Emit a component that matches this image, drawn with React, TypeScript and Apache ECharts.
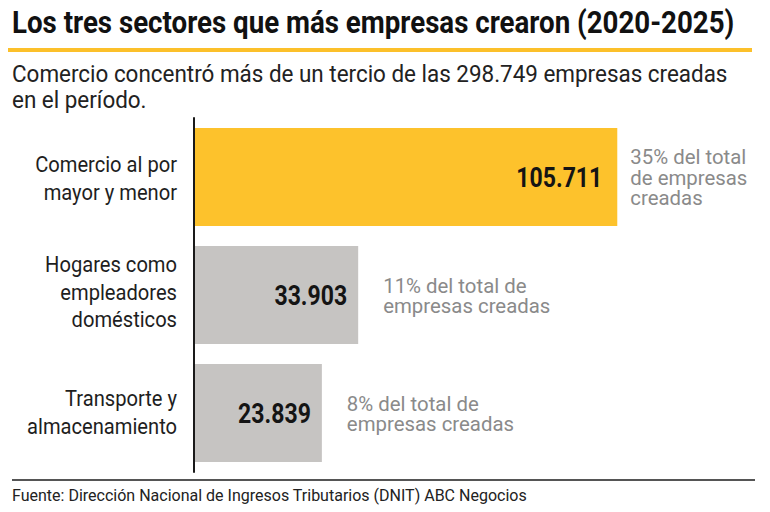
import React, { useEffect, useRef } from "react";
import * as echarts from "echarts";

const TITLE = "Los tres sectores que más empresas crearon (2020-2025)";
const SUBTITLE_LINES = ["Comercio concentró más de un tercio de las 298.749 empresas creadas", "en el período."];
const SOURCE = "Fuente: Dirección Nacional de Ingresos Tributarios (DNIT) ABC Negocios";

const categories = [
  "Comercio al por\nmayor y menor",
  "Hogares como\nempleadores\ndomésticos",
  "Transporte y\nalmacenamiento",
];
const values = [105711, 33903, 23839];
const shareLabels = [
  "35% del total\nde empresas\ncreadas",
  "11% del total de\nempresas creadas",
  "8% del total de\nempresas creadas",
];

const FAMILY = "Roboto, 'Liberation Sans', sans-serif";
const X_MIN = -11600;
const X_MAX = 140000;
const BAR_COLORS = ["#fdc22c", "#c6c4c2", "#c6c4c2"];
const SHARE_OFFSETS = [13, 25, 25];
const VALUE_GAPS = [15, 11, 11];
const CAT_DY = [1, -3, -1];

const fmt = (v: number) => String(Math.round(v)).replace(/\B(?=(\d{3})+(?!\d))/g, ".");

// horizontal scale that makes a text as wide as the condensed face of the reference
const ctx = typeof document !== "undefined" ? document.createElement("canvas").getContext("2d") : null;
function fitScale(text: string, size: number, weight: string, target: number) {
  if (!ctx) return 0.8;
  ctx.font = `${weight} ${size}px ${FAMILY}`;
  const w = ctx.measureText(text).width;
  return w > 0 ? target / w : 0.8;
}

export default function App() {
  const ref = useRef<HTMLDivElement>(null);
  useEffect(() => {
    if (!ref.current) return;
    const chart = echarts.init(ref.current, undefined, { renderer: "svg" });

    const sTitle = fitScale(TITLE, 31, "bold", 723);
    const sSub = fitScale(SUBTITLE_LINES[0], 24, "normal", 716);
    const sSrc = fitScale(SOURCE, 16, "normal", 515);
    const sCat = fitScale("almacenamiento", 22, "normal", 150);
    const sVal = fitScale("105.711", 28, "bold", 86);
    const sShare = fitScale("35% del total", 20, "normal", 116);

    chart.setOption({
      animation: false,
      backgroundColor: "#ffffff",
      grid: { left: 194, right: 29, top: 118, bottom: 40 },
      xAxis: { type: "value", min: X_MIN, max: X_MAX, show: false },
      yAxis: {
        type: "category",
        data: categories,
        inverse: true,
        axisTick: { show: false },
        axisLine: { show: true, onZero: false, lineStyle: { color: "#1a1a1a", width: 2 } },
        axisLabel: { show: false },
        splitLine: { show: false },
      },
      series: [
        {
          type: "custom",
          encode: { x: 0, y: 1 },
          data: values.map((v, i) => [v, i]),
          renderItem: (params: any, api: any) => {
            const idx = params.dataIndex;
            const v = api.value(0);
            const start = api.coord([X_MIN, idx]);
            const end = api.coord([v, idx]);
            const h = api.size([0, 1])[1] * 0.83;
            return {
              type: "group",
              children: [
                {
                  type: "rect",
                  shape: { x: start[0] + 1, y: end[1] - h / 2, width: end[0] - start[0] - 1, height: h },
                  style: { fill: BAR_COLORS[idx] },
                },
                {
                  type: "text",
                  x: start[0] - 17,
                  y: end[1] + CAT_DY[idx],
                  scaleX: sCat,
                  style: {
                    text: categories[idx],
                    x: 0,
                    y: 0,
                    align: "right",
                    verticalAlign: "middle",
                    fontFamily: FAMILY,
                    fontSize: 22,
                    lineHeight: 27.5,
                    fill: "#1e1e1e",
                  },
                },
                {
                  type: "text",
                  x: end[0] - VALUE_GAPS[idx],
                  y: end[1],
                  scaleX: sVal,
                  style: {
                    text: fmt(v),
                    x: 0,
                    y: 0,
                    align: "right",
                    verticalAlign: "middle",
                    fontFamily: FAMILY,
                    fontWeight: "bold",
                    fontSize: 28,
                    fill: "#141414",
                  },
                },
                {
                  type: "text",
                  x: end[0] + SHARE_OFFSETS[idx],
                  y: end[1] + 1,
                  scaleX: sShare,
                  style: {
                    text: shareLabels[idx],
                    x: 0,
                    y: 0,
                    align: "left",
                    verticalAlign: "middle",
                    fontFamily: FAMILY,
                    fontSize: 20,
                    lineHeight: 20.5,
                    fill: "#8a8a8a",
                  },
                },
              ],
            };
          },
        },
      ],
      graphic: [
        {
          type: "text",
          x: 12,
          y: 22.5,
          scaleX: sTitle,
          style: {
            text: TITLE, x: 0, y: 0, verticalAlign: "middle",
            fontFamily: FAMILY, fontWeight: "bold", fontSize: 31, fill: "#111",
          },
        },
        {
          type: "rect",
          shape: { x: 8, y: 48, width: 744, height: 4 },
          style: { fill: "#fcc02a" },
        },
        {
          type: "text",
          x: 12,
          y: 73.5,
          scaleX: sSub,
          style: {
            text: SUBTITLE_LINES[0], x: 0, y: 0, verticalAlign: "middle",
            fontFamily: FAMILY, fontSize: 24, fill: "#222",
          },
        },
        {
          type: "text",
          x: 12,
          y: 100,
          scaleX: sSub,
          style: {
            text: SUBTITLE_LINES[1], x: 0, y: 0, verticalAlign: "middle",
            fontFamily: FAMILY, fontSize: 24, fill: "#222",
          },
        },
        {
          type: "rect",
          shape: { x: 12, y: 479, width: 743, height: 2 },
          style: { fill: "#555" },
        },
        {
          type: "text",
          x: 12,
          y: 496,
          scaleX: sSrc,
          style: {
            text: SOURCE, x: 0, y: 0, verticalAlign: "middle",
            fontFamily: FAMILY, fontSize: 16, fill: "#222",
          },
        },
      ],
    });
    return () => chart.dispose();
  }, []);
  return <div ref={ref} style={{ width: 770, height: 512, position: "absolute", left: 0, top: 0 }} />;
}
